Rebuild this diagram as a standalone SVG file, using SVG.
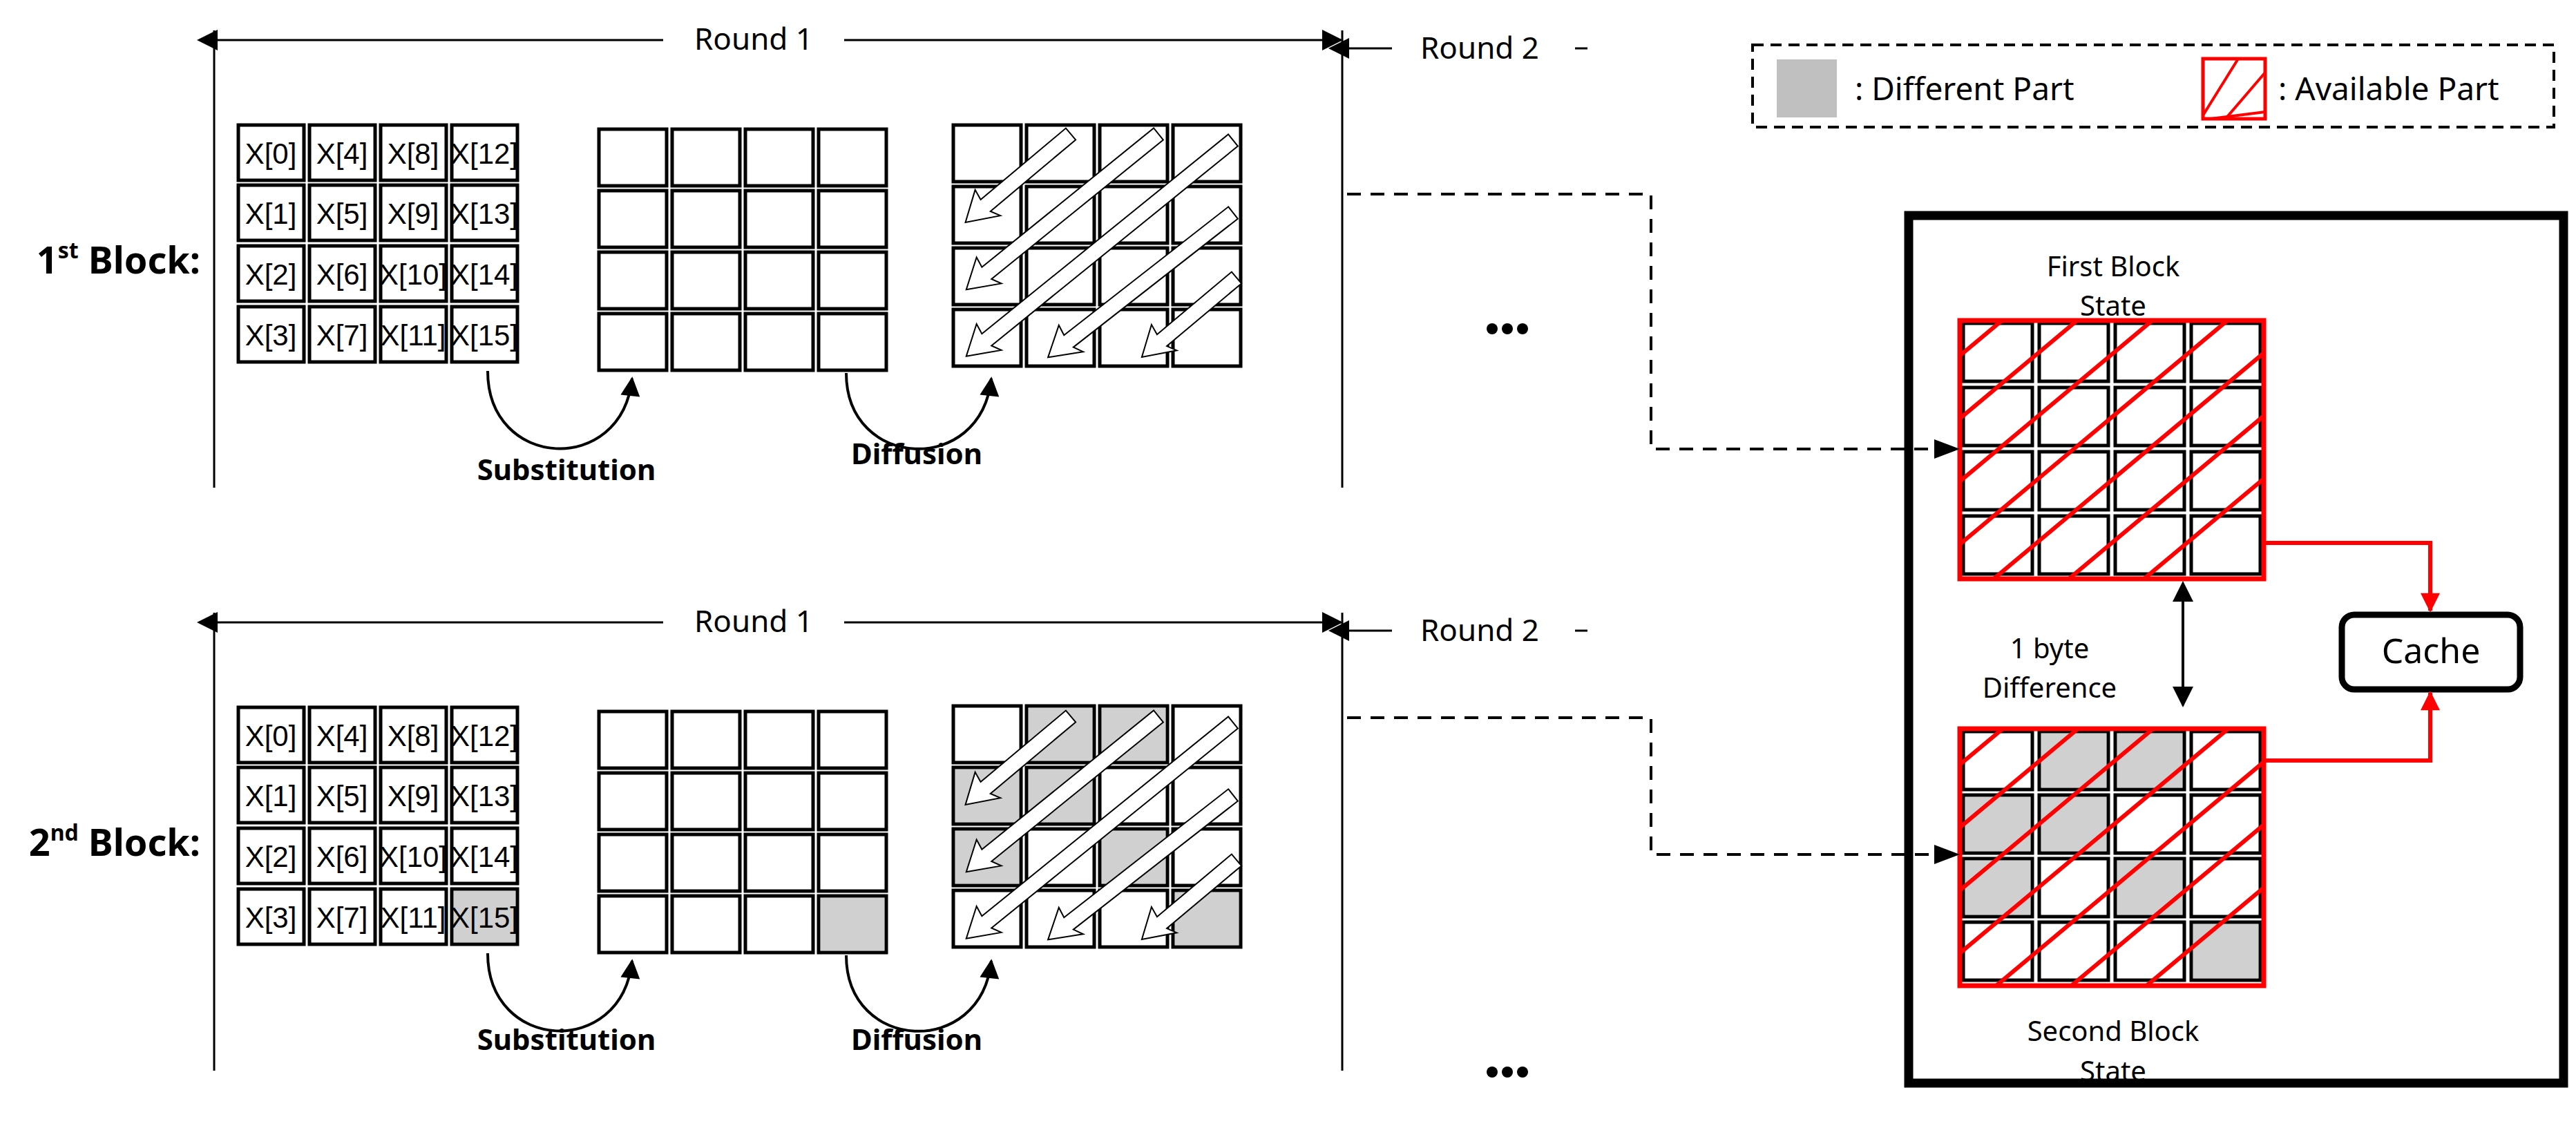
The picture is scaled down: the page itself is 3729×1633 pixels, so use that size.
<svg xmlns="http://www.w3.org/2000/svg" width="3729" height="1633" viewBox="0 0 3729 1633">
<style>
.t{font-family:"Noto Sans","Liberation Sans",sans-serif;fill:#000}
.cell{fill:#fff;stroke:#000;stroke-width:5}
.g{fill:#d0d0d0}
.ln{stroke:#000;stroke-width:3;fill:none}
.dash{stroke:#000;stroke-width:4;fill:none;stroke-dasharray:20 14}
.red{stroke:#f00;stroke-width:6;fill:none}
.da{fill:#fff;stroke:#000;stroke-width:2}
.xt{font-family:"Liberation Sans",sans-serif;font-size:42px;text-anchor:middle}
</style>
<defs>
<marker id="ah" markerWidth="10" markerHeight="10" refX="9" refY="5" orient="auto" markerUnits="userSpaceOnUse" viewBox="0 0 10 10"><path d="M0,0 L10,5 L0,10 Z" fill="#000"/></marker>
<marker id="big" viewBox="0 0 10 10" refX="9" refY="5" markerWidth="34" markerHeight="30" orient="auto" markerUnits="userSpaceOnUse"><path d="M0,0 L10,5 L0,10 Z" fill="#000"/></marker>
<marker id="bigs" viewBox="0 0 10 10" refX="1" refY="5" markerWidth="34" markerHeight="30" orient="auto-start-reverse" markerUnits="userSpaceOnUse"><path d="M0,0 L10,5 L0,10 Z" fill="#000"/></marker>
<marker id="rh" viewBox="0 0 10 10" refX="9" refY="5" markerWidth="30" markerHeight="28" orient="auto" markerUnits="userSpaceOnUse"><path d="M0,0 L10,5 L0,10 Z" fill="#f00"/></marker>
<marker id="cv" viewBox="0 0 10 10" refX="9" refY="5" markerWidth="38" markerHeight="28" orient="auto" markerUnits="userSpaceOnUse"><path d="M0,0 L10,5 L0,10 Z" fill="#000"/></marker>
<clipPath id="c1"><rect x="2837" y="464" width="440" height="374"/></clipPath>
<clipPath id="c2"><rect x="2837" y="1055" width="440" height="372"/></clipPath>
<clipPath id="cl"><rect x="3189" y="85" width="90" height="87"/></clipPath>
<g id="rowX">
<rect class="cell" x="345" y="0" width="95" height="80"/><rect class="cell" x="448" y="0" width="95" height="80"/><rect class="cell" x="551" y="0" width="95" height="80"/><rect class="cell" x="654" y="0" width="95" height="80"/>
</g>
<g id="row2">
<rect class="cell" x="867" y="0" width="98" height="82"/><rect class="cell" x="973" y="0" width="98" height="82"/><rect class="cell" x="1079" y="0" width="98" height="82"/><rect class="cell" x="1185" y="0" width="98" height="82"/>
</g>
<g id="row3">
<rect class="cell" x="1380" y="0" width="98" height="82"/><rect class="cell" x="1486" y="0" width="98" height="82"/><rect class="cell" x="1592" y="0" width="98" height="82"/><rect class="cell" x="1698" y="0" width="98" height="82"/>
</g>
<g id="rowR">
<rect class="cell" x="2842" y="0" width="100" height="84"/><rect class="cell" x="2952" y="0" width="100" height="84"/><rect class="cell" x="3062" y="0" width="100" height="84"/><rect class="cell" x="3172" y="0" width="100" height="84"/>
</g>
</defs>

<g id="legend">
<rect x="2537" y="65" width="1160" height="119" fill="none" stroke="#000" stroke-width="4" stroke-dasharray="16 10"/>
<rect x="2572" y="86" width="87" height="84" fill="#c0c0c0"/>
<text class="t" x="2685" y="145" font-size="46">: Different Part</text>
<rect x="3189" y="85" width="90" height="87" fill="#fff" stroke="#f00" stroke-width="5"/>
<g clip-path="url(#cl)" class="red" style="stroke-width:4"><line x1="3189" y1="167" x2="3240" y2="85"/><line x1="3189" y1="210" x2="3279" y2="105"/><line x1="3200" y1="172" x2="3279" y2="162"/></g>
<text class="t" x="3298" y="145" font-size="46">: Available Part</text>
</g>

<g id="block1">
<text class="t" x="290" y="396" font-size="54" font-weight="bold" text-anchor="end">1<tspan font-size="32" dy="-22">st</tspan><tspan dy="22"> Block:</tspan></text>
<line class="ln" x1="310" y1="44" x2="310" y2="706"/>
<line class="ln" x1="1943" y1="44" x2="1943" y2="706"/>
<line class="ln" x1="312" y1="58" x2="960" y2="58" marker-start="url(#bigs)"/>
<line class="ln" x1="1222" y1="58" x2="1941" y2="58" marker-end="url(#big)"/>
<text class="t" x="1091" y="72" font-size="44" text-anchor="middle">Round 1</text>
<line class="ln" x1="1950" y1="70" x2="2015" y2="70" marker-start="url(#bigs)"/>
<text class="t" x="2142" y="85" font-size="44" text-anchor="middle">Round 2</text>
<line class="ln" x1="2280" y1="70" x2="2298" y2="70"/>
<use href="#rowX" y="181"/><use href="#rowX" y="268"/><use href="#rowX" y="356"/><use href="#rowX" y="444"/>
<g class="xt">
<text x="392" y="237">X[0]</text><text x="495" y="237">X[4]</text><text x="598" y="237">X[8]</text><text x="701" y="237">X[12]</text>
<text x="392" y="324">X[1]</text><text x="495" y="324">X[5]</text><text x="598" y="324">X[9]</text><text x="701" y="324">X[13]</text>
<text x="392" y="412">X[2]</text><text x="495" y="412">X[6]</text><text x="598" y="412">X[10]</text><text x="701" y="412">X[14]</text>
<text x="392" y="500">X[3]</text><text x="495" y="500">X[7]</text><text x="598" y="500">X[11]</text><text x="701" y="500">X[15]</text>
</g>
<use href="#row2" y="187"/><use href="#row2" y="276"/><use href="#row2" y="365"/><use href="#row2" y="454"/>
<use href="#row3" y="181"/><use href="#row3" y="270"/><use href="#row3" y="359"/><use href="#row3" y="448"/>
<g class="da">
<path transform="translate(1550,194) rotate(140)" d="M0,-11 L161,-11 L154,-25 L199,0 L158,27 L161,11 L0,11 Z"/>
<path transform="translate(1677,194) rotate(141)" d="M0,-11 L320,-11 L313,-25 L358,0 L317,27 L320,11 L0,11 Z"/>
<path transform="translate(1785,203) rotate(141)" d="M0,-11 L459,-11 L452,-25 L497,0 L456,27 L459,11 L0,11 Z"/>
<path transform="translate(1785,308) rotate(142)" d="M0,-11 L302,-11 L295,-25 L340,0 L299,27 L302,11 L0,11 Z"/>
<path transform="translate(1790,402) rotate(140)" d="M0,-11 L141,-11 L134,-25 L179,0 L138,27 L141,11 L0,11 Z"/>
</g>
<path class="ln" style="stroke-width:4" d="M706,537 C706,680 900,690 915,548" marker-end="url(#cv)"/>
<path class="ln" style="stroke-width:4" d="M1225,540 C1225,680 1420,690 1435,548" marker-end="url(#cv)"/>
<text class="t" x="820" y="695" font-size="42" font-weight="bold" text-anchor="middle">Substitution</text>
<text class="t" x="1327" y="672" font-size="42" font-weight="bold" text-anchor="middle">Diffusion</text>
<circle cx="2160" cy="476" r="8"/><circle cx="2182" cy="476" r="8"/><circle cx="2204" cy="476" r="8"/>
</g>

<g id="block2">
<text class="t" x="290" y="1239" font-size="54" font-weight="bold" text-anchor="end">2<tspan font-size="32" dy="-22">nd</tspan><tspan dy="22"> Block:</tspan></text>
<line class="ln" x1="310" y1="887" x2="310" y2="1550"/>
<line class="ln" x1="1943" y1="887" x2="1943" y2="1550"/>
<line class="ln" x1="312" y1="901" x2="960" y2="901" marker-start="url(#bigs)"/>
<line class="ln" x1="1222" y1="901" x2="1941" y2="901" marker-end="url(#big)"/>
<text class="t" x="1091" y="915" font-size="44" text-anchor="middle">Round 1</text>
<line class="ln" x1="1950" y1="913" x2="2015" y2="913" marker-start="url(#bigs)"/>
<text class="t" x="2142" y="928" font-size="44" text-anchor="middle">Round 2</text>
<line class="ln" x1="2280" y1="913" x2="2298" y2="913"/>
<use href="#rowX" y="1024"/><use href="#rowX" y="1111"/><use href="#rowX" y="1199"/><use href="#rowX" y="1287"/>
<rect x="657" y="1290" width="89" height="74" class="g"/>
<g class="xt">
<text x="392" y="1080">X[0]</text><text x="495" y="1080">X[4]</text><text x="598" y="1080">X[8]</text><text x="701" y="1080">X[12]</text>
<text x="392" y="1167">X[1]</text><text x="495" y="1167">X[5]</text><text x="598" y="1167">X[9]</text><text x="701" y="1167">X[13]</text>
<text x="392" y="1255">X[2]</text><text x="495" y="1255">X[6]</text><text x="598" y="1255">X[10]</text><text x="701" y="1255">X[14]</text>
<text x="392" y="1343">X[3]</text><text x="495" y="1343">X[7]</text><text x="598" y="1343">X[11]</text><text x="701" y="1343">X[15]</text>
</g>
<use href="#row2" y="1030"/><use href="#row2" y="1119"/><use href="#row2" y="1208"/><use href="#row2" y="1297"/>
<rect x="1188" y="1300" width="92" height="76" class="g"/>
<use href="#row3" y="1022"/><use href="#row3" y="1111"/><use href="#row3" y="1200"/><use href="#row3" y="1289"/>
<g class="g">
<rect x="1489" y="1025" width="92" height="76"/><rect x="1595" y="1025" width="92" height="76"/>
<rect x="1383" y="1114" width="92" height="76"/><rect x="1489" y="1114" width="92" height="76"/>
<rect x="1383" y="1203" width="92" height="76"/><rect x="1595" y="1203" width="92" height="76"/>
<rect x="1701" y="1292" width="92" height="76"/>
</g>
<g class="da">
<path transform="translate(1550,1037) rotate(140)" d="M0,-11 L161,-11 L154,-25 L199,0 L158,27 L161,11 L0,11 Z"/>
<path transform="translate(1677,1037) rotate(141)" d="M0,-11 L320,-11 L313,-25 L358,0 L317,27 L320,11 L0,11 Z"/>
<path transform="translate(1785,1046) rotate(141)" d="M0,-11 L459,-11 L452,-25 L497,0 L456,27 L459,11 L0,11 Z"/>
<path transform="translate(1785,1151) rotate(142)" d="M0,-11 L302,-11 L295,-25 L340,0 L299,27 L302,11 L0,11 Z"/>
<path transform="translate(1790,1245) rotate(140)" d="M0,-11 L141,-11 L134,-25 L179,0 L138,27 L141,11 L0,11 Z"/>
</g>
<path class="ln" style="stroke-width:4" d="M706,1380 C706,1523 900,1533 915,1391" marker-end="url(#cv)"/>
<path class="ln" style="stroke-width:4" d="M1225,1383 C1225,1523 1420,1533 1435,1391" marker-end="url(#cv)"/>
<text class="t" x="820" y="1520" font-size="42" font-weight="bold" text-anchor="middle">Substitution</text>
<text class="t" x="1327" y="1520" font-size="42" font-weight="bold" text-anchor="middle">Diffusion</text>
<circle cx="2160" cy="1552" r="8"/><circle cx="2182" cy="1552" r="8"/><circle cx="2204" cy="1552" r="8"/>
</g>

<g id="memory">
<rect x="2763" y="312" width="948" height="1256" fill="none" stroke="#000" stroke-width="13"/>
<text class="t" x="3059" y="400" font-size="40" text-anchor="middle">First Block</text>
<text class="t" x="3059" y="457" font-size="40" text-anchor="middle">State</text>
<use href="#rowR" y="468"/><use href="#rowR" y="561"/><use href="#rowR" y="654"/><use href="#rowR" y="747"/>
<g clip-path="url(#c1)" class="red"><line x1="2837" y1="515" x2="3277" y2="147"/><line x1="2837" y1="606" x2="3277" y2="238"/><line x1="2837" y1="697" x2="3277" y2="329"/><line x1="2837" y1="788" x2="3277" y2="420"/><line x1="2837" y1="879" x2="3277" y2="511"/><line x1="2837" y1="970" x2="3277" y2="602"/><line x1="2837" y1="1061" x2="3277" y2="693"/></g>
<rect x="2837" y="464" width="440" height="374" class="red" style="stroke-width:7"/>
<text class="t" x="2967" y="953" font-size="40" text-anchor="middle">1 byte</text>
<text class="t" x="2967" y="1010" font-size="40" text-anchor="middle">Difference</text>
<use href="#rowR" y="1059"/><use href="#rowR" y="1151"/><use href="#rowR" y="1243"/><use href="#rowR" y="1335"/>
<g class="g">
<rect x="2955" y="1062" width="94" height="78"/><rect x="3065" y="1062" width="94" height="78"/>
<rect x="2845" y="1154" width="94" height="78"/><rect x="2955" y="1154" width="94" height="78"/>
<rect x="2845" y="1246" width="94" height="78"/><rect x="3065" y="1246" width="94" height="78"/>
<rect x="3175" y="1338" width="94" height="78"/>
</g>
<g clip-path="url(#c2)" class="red"><line x1="2837" y1="1107" x2="3277" y2="739"/><line x1="2837" y1="1198" x2="3277" y2="830"/><line x1="2837" y1="1289" x2="3277" y2="921"/><line x1="2837" y1="1380" x2="3277" y2="1012"/><line x1="2837" y1="1471" x2="3277" y2="1103"/><line x1="2837" y1="1562" x2="3277" y2="1194"/><line x1="2837" y1="1653" x2="3277" y2="1285"/></g>
<rect x="2837" y="1055" width="440" height="372" class="red" style="stroke-width:7"/>
<text class="t" x="3059" y="1507" font-size="40" text-anchor="middle">Second Block</text>
<text class="t" x="3059" y="1565" font-size="40" text-anchor="middle">State</text>
</g>

<g id="cache">
<rect x="3390" y="890" width="258" height="108" rx="18" fill="#fff" stroke="#000" stroke-width="9"/>
<text class="t" x="3519" y="960" font-size="50" text-anchor="middle">Cache</text>
</g>

<g id="connectors">
<path class="dash" d="M1950,281 H2390 V650 H2810"/>
<path d="M2800,636 L2837,650 L2800,664 Z" fill="#000"/>
<path class="dash" d="M1950,1039 H2390 V1237 H2810"/>
<path d="M2800,1223 L2837,1237 L2800,1251 Z" fill="#000"/>
<path class="red" d="M3277,786 H3518 V884" marker-end="url(#rh)"/>
<path class="red" d="M3277,1101 H3518 V1003" marker-end="url(#rh)"/>
<line class="ln" style="stroke-width:4" x1="3160" y1="868" x2="3160" y2="1021" marker-start="url(#bigs)" marker-end="url(#big)"/>
</g>
</svg>
